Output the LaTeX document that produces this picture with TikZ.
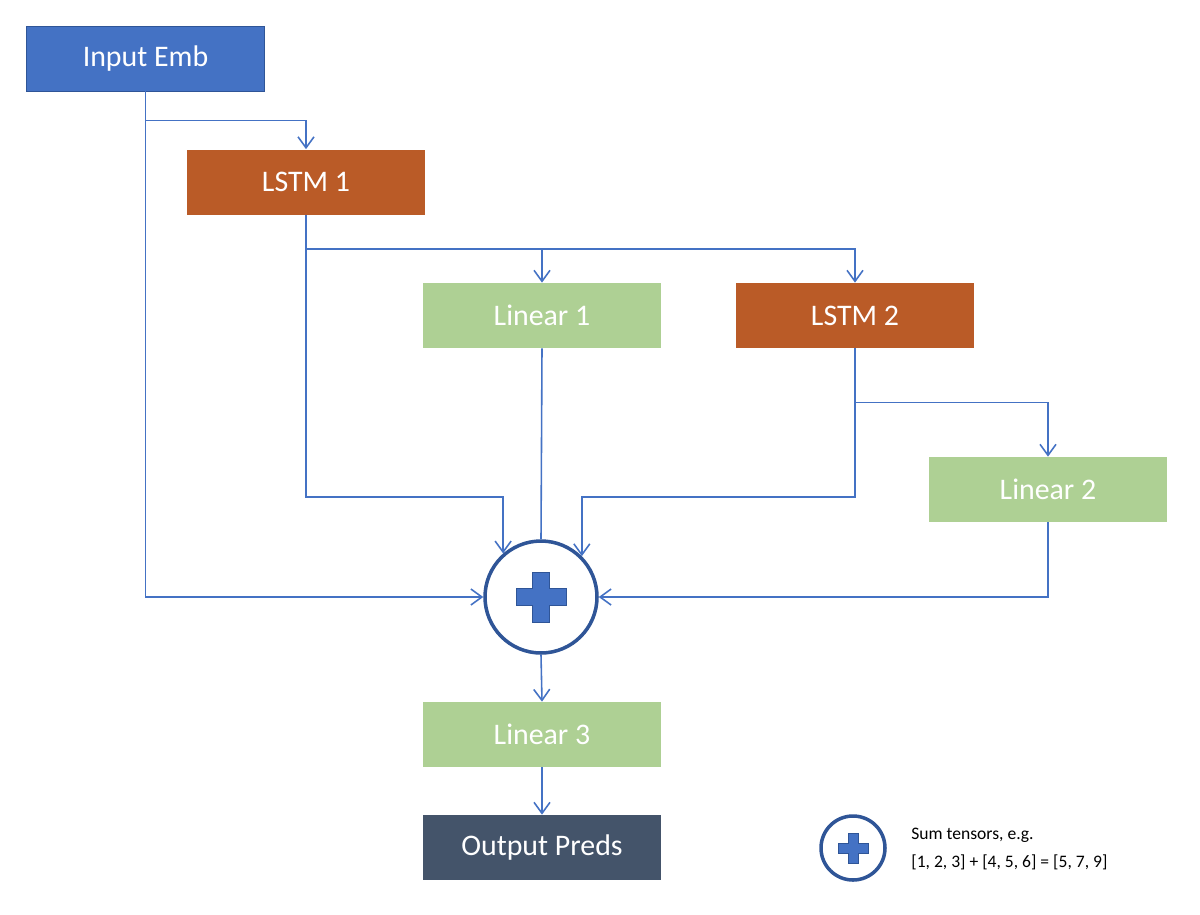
\documentclass[tikz,border=0pt]{standalone}
\usepackage{fontspec}
\setmainfont{Carlito}
\usetikzlibrary{arrows.meta,positioning,calc}
\definecolor{embblue}{HTML}{4472C4}
\definecolor{edgeblue}{HTML}{2F5597}
\definecolor{lstmorange}{HTML}{BA5B27}
\definecolor{lingreen}{HTML}{AED094}
\definecolor{outslate}{HTML}{44546A}
\begin{document}
\begin{tikzpicture}[x=0.02cm, y=-0.02cm,
  box/.style={rectangle, minimum width=238*0.02cm, minimum height=65*0.02cm, align=center, text=white, font=\fontsize{17}{20}\selectfont, inner sep=0pt},
  arrow/.style={-{Straight Barb[length=2.2mm, width=3.2mm]}, embblue, line width=0.9pt},
  line/.style={embblue, line width=0.9pt},
  sumcirc/.style={circle, draw=edgeblue, line width=2pt, fill=white, inner sep=0pt},
]
\useasboundingbox (0,0) rectangle (1200,914);

\node[box, fill=embblue, draw=edgeblue] (emb) at (145.5,58.5) {Input Emb};
\node[box, fill=lstmorange] (lstm1) at (306,182) {LSTM 1};
\node[box, fill=lingreen] (lin1) at (542,315.5) {Linear 1};
\node[box, fill=lstmorange] (lstm2) at (855,315.5) {LSTM 2};
\node[box, fill=lingreen] (lin2) at (1048,489.5) {Linear 2};
\node[sumcirc, minimum size=112*0.02cm] (sum) at (541,597) {};
\node[box, fill=lingreen] (lin3) at (542,734.5) {Linear 3};
\node[box, fill=outslate] (out) at (542,847.5) {Output Preds};

% plus signs
\fill[embblue, draw=edgeblue] ($(sum)+(-25,-8.5)$) -- ++(16.5,0) -- ++(0,-16.5) -- ++(17,0) -- ++(0,16.5) -- ++(16.5,0) -- ++(0,17) -- ++(-16.5,0) -- ++(0,16.5) -- ++(-17,0) -- ++(0,-16.5) -- ++(-16.5,0) -- cycle;

% legend
\node[sumcirc, minimum size=64*0.02cm] (key) at (853,848) {};
\fill[embblue, draw=edgeblue] ($(key)+(-15,-5)$) -- ++(10,0) -- ++(0,-10) -- ++(10,0) -- ++(0,10) -- ++(10,0) -- ++(0,10) -- ++(-10,0) -- ++(0,10) -- ++(-10,0) -- ++(0,-10) -- ++(-10,0) -- cycle;
\node[anchor=west, align=left, font=\fontsize{10}{16}\selectfont, inner sep=0pt] (keytext) at (911,849) {Sum tensors, e.g.\\{}[1, 2, 3] + [4, 5, 6] = [5, 7, 9]};

% connectors
\draw[arrow] (emb.south) |- (sum.west);
\draw[arrow] (emb.south) ++(0,29) -| (lstm1.north);
\draw[arrow] (lstm1.south) |- (sum.131 |- 0,497) -- (sum.131);
\draw[arrow] (lstm1.south) ++(0,34) -| (lin1.north);
\draw[arrow] (lstm1.south) ++(0,34) -| (lstm2.north);
\draw[line] (lin1.south) -- (sum.north);
\draw[arrow] (lstm2.south) |- (sum.45 |- 0,497) -- (sum.45);
\draw[arrow] (lstm2.south) ++(0,54) -| (lin2.north);
\draw[arrow] (lin2.south) |- (sum.east);
\draw[arrow] (sum.south) -- (lin3.north);
\draw[arrow] (lin3.south) -- (out.north);

\end{tikzpicture}
\end{document}
